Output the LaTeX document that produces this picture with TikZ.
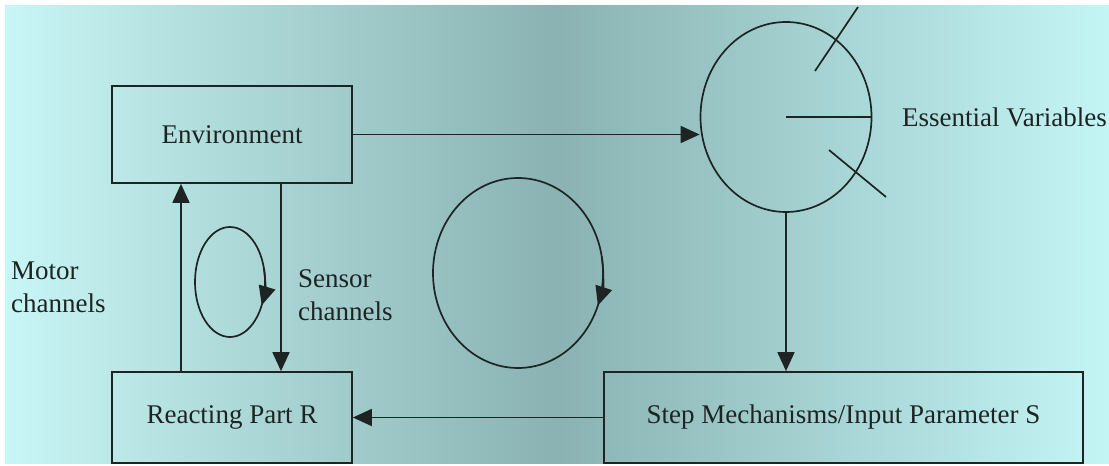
\documentclass[tikz,border=0pt]{standalone}
\usepackage{fontspec}
\setmainfont{Liberation Serif}
\usetikzlibrary{arrows.meta,shapes.geometric,calc}
\definecolor{bgleft}{RGB}{200,245,245}
\definecolor{bgmid}{RGB}{138,178,178}
\definecolor{bgright}{RGB}{196,245,245}
\definecolor{ink}{RGB}{30,36,36}
\tikzset{
  box/.style={draw=ink, line width=1.7pt, inner sep=0pt},
  label/.style={text=ink, font=\fontsize{27}{33}\selectfont, inner sep=0pt},
  flow/.style={draw=ink, line width=1.7pt, -{Triangle[length=19pt,width=17pt]}},
  loop/.style={draw=ink, line width=1.7pt}
}
\begin{document}
  \begin{tikzpicture}[x=1pt, y=1pt]
    \useasboundingbox[fill=white] (0,0) rectangle (1109,466);
    \shade[left color=bgleft, right color=bgright, middle color=bgmid] (5,2) rectangle (1109,460);

    \node[box, minimum width=240pt, minimum height=97pt] (env) at (232,331.5) {};
    \node[label] at (env) {Environment};
    \node[box, minimum width=240pt, minimum height=91pt] (react) at (232,48.5) {};
    \node[label] at (react) {Reacting Part R};
    \node[box, minimum width=479pt, minimum height=91pt] (step) at (843.5,48.5) {};
    \node[label] at (step) {Step Mechanisms/Input Parameter S};

    \node[box, ellipse, minimum width=171pt, minimum height=190pt] (ev) at (786,349) {};
    \draw[loop] (815,395) -- (858,459);
    \draw[loop] (ev.center) -- (ev.east);
    \draw[loop] (829,316) -- (886,269);
    \node[label, anchor=west] (evtext) at (902,349) {Essential Variables};

    \node[label, anchor=west, align=left] (motor) at (11,179) {Motor\\channels};
    \node[label, anchor=west, align=left] (sensor) at (298,171) {Sensor\\channels};

    \draw[flow] (env.east) -- (env.east -| ev.west);
    \draw[flow] (ev.south) -- (ev.south |- step.north);
    \draw[flow] (step.west) -- (react.east);
    \draw[flow] ([xshift=-51pt]react.north) -- ([xshift=-51pt]env.south);
    \draw[flow] ([xshift=49pt]env.south) -- ([xshift=49pt]react.north);

    \coordinate (small) at (230,184);
    \draw[loop] (small) ellipse[x radius=35, y radius=55];
    \draw[flow] ($(small)+(15:35 and 55)$) arc[start angle=15, end angle=-25, x radius=35, y radius=55];
    \coordinate (big) at (518,193);
    \draw[loop] (big) ellipse[x radius=85, y radius=95];
    \draw[flow] ($(big)+(10:85 and 95)$) arc[start angle=10, end angle=-20, x radius=85, y radius=95];
  \end{tikzpicture}
\end{document}
